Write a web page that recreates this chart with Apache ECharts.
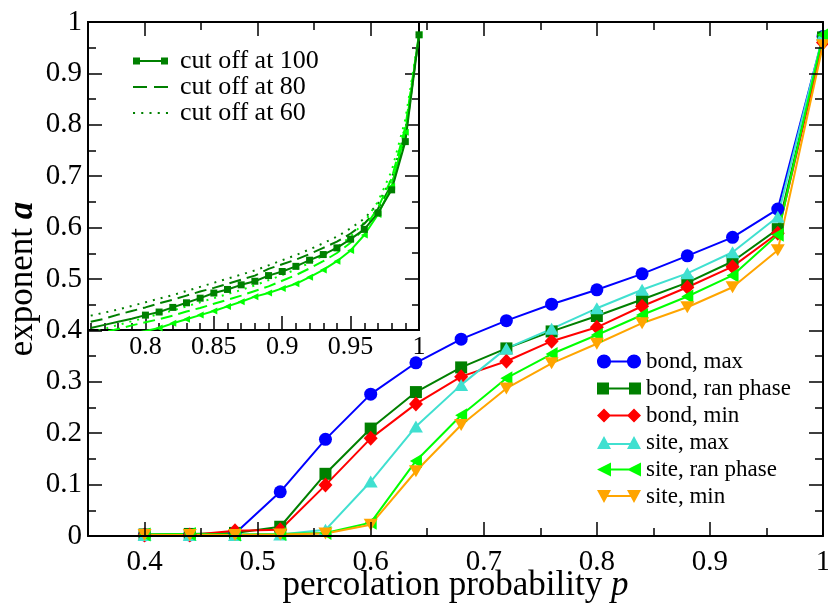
<!DOCTYPE html>
<html><head><meta charset="utf-8">
<script src="https://cdn.jsdelivr.net/npm/echarts@6/dist/echarts.min.js"></script>
<style>html,body{margin:0;padding:0;background:#fff}#c{width:828px;height:603px}</style>
</head><body><div id="c"></div>
<script>
// ---- main panel data ----
const pMain   = [0.40,0.44,0.48,0.52,0.56,0.60,0.64,0.68,0.72,0.76,0.80,0.84,0.88,0.92,0.96,1.00];
const bondMax = [0.002,0.002,0.005,0.086,0.188,0.276,0.337,0.383,0.419,0.451,0.479,0.510,0.545,0.581,0.636,0.972];
const bondRan = [0.003,0.004,0.006,0.018,0.121,0.209,0.280,0.328,0.365,0.398,0.428,0.460,0.493,0.534,0.597,0.970];
const bondMin = [0.002,0.002,0.010,0.012,0.099,0.190,0.257,0.310,0.340,0.379,0.406,0.447,0.484,0.524,0.589,0.960];
const siteMax = [0.002,0.002,0.002,0.003,0.012,0.106,0.213,0.294,0.365,0.403,0.443,0.479,0.511,0.552,0.621,0.975];
const siteRan = [0.003,0.004,0.003,0.004,0.006,0.026,0.146,0.235,0.307,0.354,0.391,0.430,0.466,0.507,0.586,0.975];
const siteMin = [0.002,0.002,0.002,0.003,0.005,0.022,0.126,0.216,0.287,0.336,0.374,0.414,0.445,0.484,0.556,0.955];
const mainNames = ['bond, max','bond, ran phase','bond, min','site, max','site, ran phase','site, min'];
const mainXLabels = [0.4,0.5,0.6,0.7,0.8,0.9,1.0];

// ---- inset data ----
const pInset = [0.76,0.77,0.78,0.79,0.80,0.81,0.82,0.83,0.84,0.85,0.86,0.87,0.88,0.89,0.90,0.91,0.92,0.93,0.94,0.95,0.96,0.97,0.98,0.99,1.00];
const bondCut100 = [0.404,0.410,0.416,0.422,0.429,0.435,0.444,0.453,0.462,0.472,0.479,0.488,0.495,0.506,0.514,0.524,0.536,0.547,0.560,0.577,0.596,0.628,0.673,0.767,0.975];
const bondCut80  = [0.416,0.422,0.430,0.437,0.444,0.452,0.459,0.467,0.475,0.482,0.490,0.498,0.506,0.519,0.528,0.537,0.548,0.560,0.572,0.588,0.607,0.636,0.683,0.775,0.975];
const bondCut60  = [0.428,0.434,0.440,0.447,0.454,0.461,0.468,0.476,0.484,0.492,0.500,0.508,0.516,0.526,0.536,0.546,0.557,0.569,0.582,0.598,0.617,0.646,0.695,0.790,0.975];
const siteCut100 = [0.375,0.381,0.387,0.393,0.398,0.404,0.413,0.421,0.429,0.437,0.446,0.455,0.465,0.472,0.481,0.490,0.503,0.517,0.534,0.555,0.585,0.625,0.680,0.785,0.975];
const siteCut80  = [0.390,0.396,0.402,0.409,0.415,0.421,0.428,0.436,0.443,0.451,0.459,0.467,0.476,0.485,0.496,0.507,0.520,0.534,0.550,0.570,0.598,0.638,0.695,0.795,0.975];
const siteCut60  = [0.396,0.402,0.410,0.417,0.424,0.431,0.438,0.446,0.454,0.462,0.470,0.478,0.487,0.497,0.507,0.518,0.531,0.545,0.561,0.582,0.610,0.650,0.710,0.810,0.975];
const insetNames = ['cut off at 100','cut off at 80','cut off at 60'];
const insetXLabels = [0.8,0.85,0.9,0.95,1.0];
const insetMinorTicks = [0.76,0.77,0.78,0.79,0.81,0.82,0.83,0.84,0.86,0.87,0.88,0.89,0.91,0.92,0.93,0.94,0.96,0.97,0.98,0.99];

const FONT = 'Liberation Serif';
const BLK = '#000';
const chart = echarts.init(document.getElementById('c'), null, {renderer:'canvas'});

function fmt(v){ if (Math.abs(v-1)<1e-9) return '1'; if (Math.abs(v)<1e-9) return '0'; return (+v.toFixed(2)).toString(); }
function fmtMainX(v){ const r=Math.round(v*10); if (Math.abs(v*10-r)>1e-6) return ''; return r===10?'1':(r/10).toFixed(1); }

const mainColors = ['#0000ff','#008000','#ff0000','#40e0d0','#00ff00','#ffa500'];
const mainData = [bondMax,bondRan,bondMin,siteMax,siteRan,siteMin];
const mainSym = [['circle',13,0],['rect',12,0],['diamond',[14,15],0],['triangle',[14,12],0],['triangle',[14,12],90],['triangle',[14,12],180]];
const circ = (cx)=>`M${cx-7},7C${cx-7},3.13,${cx-3.87},0,${cx},0C${cx+3.87},0,${cx+7},3.13,${cx+7},7C${cx+7},10.87,${cx+3.87},14,${cx},14C${cx-3.87},14,${cx-7},10.87,${cx-7},7Z`;
const mainIcons = [
 'path://' + circ(7) + circ(37) + 'M7,6L37,6L37,8L7,8Z',
 'path://M0,0L12,0L12,12L0,12ZM32,0L44,0L44,12L32,12ZM12,5L32,5L32,7L12,7Z',
 'path://M0,7L7,0L14,7L7,14ZM30,7L37,0L44,7L37,14ZM7,6L37,6L37,8L7,8Z',
 'path://M0,13L7,0L14,13ZM30,13L37,0L44,13ZM7,7L37,7L37,9L7,9Z',
 'path://M0,7L14,0L14,14ZM30,7L44,0L44,14ZM7,6L37,6L37,8L7,8Z',
 'path://M0,0L14,0L7,13ZM30,0L44,0L37,13ZM7,5L37,5L37,7L7,7Z'
];
const insetIcons = [
 'path://M0,0L7,0L7,7L0,7ZM28,0L35,0L35,7L28,7ZM7,2.5L28,2.5L28,4.5L7,4.5Z',
 'path://M0,0L14,0L14,2L0,2ZM21,0L35,0L35,2L21,2Z',
 'path://M0,0L2,0L2,2L0,2ZM8,0L10,0L10,2L8,2ZM16,0L18,0L18,2L16,2ZM24,0L26,0L26,2L24,2ZM32,0L34,0L34,2L32,2Z'
];

const series = [];
mainData.forEach((d,i)=>{
  series.push({type:'line', name: mainNames[i], xAxisIndex:0, yAxisIndex:0,
    data: pMain.map((x,k)=>[x,d[k]]),
    symbol: mainSym[i][0], symbolSize: mainSym[i][1], symbolRotate: mainSym[i][2],
    showSymbol:true, showAllSymbol:true,
    lineStyle:{color:mainColors[i], width:2}, itemStyle:{color:mainColors[i]},
    z: 2, animation:false, clip:true, emphasis:{disabled:true}});
});
const DG = '#008000', LG = '#00ff00';
function inset(name, d, color, type, sym, rot){
  return {type:'line', name, xAxisIndex:4, yAxisIndex:2,
    data: pInset.map((x,k)=>[x,d[k]]),
    symbol: sym ? (v => v[0] < 0.795 ? 'none' : sym) : 'none', symbolSize: 7, symbolRotate: rot||0,
    showSymbol: !!sym, showAllSymbol:true,
    lineStyle:{color, width:2, type}, itemStyle:{color},
    z: 7, animation:false, clip:true, emphasis:{disabled:true}};
}
series.push(inset('cut off at 60', bondCut60, DG, [2,6], null));
series.push(inset('site cut 60', siteCut60, LG, [2,6], null));
series.push(inset('cut off at 80', bondCut80, DG, [12,6], null));
series.push(inset('site cut 80', siteCut80, LG, [12,6], null));
series.push(inset('site cut 100', siteCut100, LG, 'solid', 'triangle', 90));
series.push(inset('cut off at 100', bondCut100, DG, 'solid', 'rect', 0));

const tickStyle = {color:BLK, width:1.5};
const lineSt = {show:true, lineStyle:{color:BLK, width:2}};
const TITLE = 35;
const option = {
  backgroundColor:'#fff',
  animation:false,
  grid:[
    {left:88, right:5, top:22, bottom:67, show:false, z:0, containLabel:false, outerBoundsMode:'none'},
    {left:88, top:22, width:331, height:308, show:true, backgroundColor:'#fff', borderColor:BLK, borderWidth:2, z:5, containLabel:false, outerBoundsMode:'none'}
  ],
  xAxis:[
    {gridIndex:0, type:'value', position:'bottom', min:0.35, max:1, interval:0.05, z:10,
     axisLine:lineSt, splitLine:{show:false},
     axisTick:{show:true, inside:true, length:8, lineStyle:tickStyle},
     axisLabel:{show:true, formatter:fmtMainX, fontFamily:FONT, fontSize:29, color:BLK, margin:12, showMinLabel:true, showMaxLabel:true, hideOverlap:false},
     name:'{t|percolation probability }{i|p}', nameLocation:'middle', nameGap:32, nameMoveOverlap:false,
     nameTextStyle:{color:BLK, fontFamily:FONT, fontSize:TITLE, rich:{t:{fontFamily:FONT,fontSize:TITLE,color:BLK}, i:{fontFamily:FONT,fontSize:TITLE,fontStyle:'italic',color:BLK}}}},
    {gridIndex:0, type:'value', position:'bottom', min:0.35, max:1, z:10,
     axisLine:{show:false}, splitLine:{show:false}, axisLabel:{show:false},
     axisTick:{show:true, inside:true, length:14, lineStyle:tickStyle, customValues:mainXLabels}},
    {gridIndex:0, type:'value', position:'top', min:0.35, max:1, interval:0.05, z:10,
     axisLine:lineSt, splitLine:{show:false}, axisLabel:{show:false},
     axisTick:{show:true, inside:true, length:8, lineStyle:tickStyle}},
    {gridIndex:0, type:'value', position:'top', min:0.35, max:1, z:10,
     axisLine:{show:false}, splitLine:{show:false}, axisLabel:{show:false},
     axisTick:{show:true, inside:true, length:14, lineStyle:tickStyle, customValues:mainXLabels}},
    {gridIndex:1, type:'value', position:'bottom', min:0.758, max:1, z:6,
     axisLine:lineSt, splitLine:{show:false},
     axisTick:{show:true, inside:true, length:7, lineStyle:tickStyle, customValues:insetMinorTicks},
     axisLabel:{show:true, customValues:insetXLabels, formatter:fmt, fontFamily:FONT, fontSize:26, color:BLK, margin:4, hideOverlap:false}},
    {gridIndex:1, type:'value', position:'bottom', min:0.758, max:1, z:6,
     axisLine:{show:false}, splitLine:{show:false}, axisLabel:{show:false},
     axisTick:{show:true, inside:true, length:14, lineStyle:tickStyle, customValues:insetXLabels}}
  ],
  yAxis:[
    {gridIndex:0, type:'value', position:'left', min:0, max:1, interval:0.1, z:10,
     axisLine:lineSt, splitLine:{show:false},
     axisTick:{show:true, inside:true, length:14, lineStyle:tickStyle},
     minorTick:{show:true, splitNumber:2, length:8, lineStyle:tickStyle},
     axisLabel:{show:true, formatter:fmt, fontFamily:FONT, fontSize:29, color:BLK, margin:6, showMinLabel:true, showMaxLabel:true},
     name:'{t|exponent }{b|a}', nameLocation:'middle', nameGap:48, nameRotate:90, nameMoveOverlap:false,
     nameTextStyle:{color:BLK, fontFamily:FONT, fontSize:TITLE, rich:{t:{fontFamily:FONT,fontSize:TITLE,color:BLK}, b:{fontFamily:FONT,fontSize:TITLE,fontStyle:'italic',fontWeight:'bold',color:BLK}}}},
    {gridIndex:0, type:'value', position:'right', min:0, max:1, interval:0.1, z:10,
     axisLine:lineSt, splitLine:{show:false}, axisLabel:{show:false},
     axisTick:{show:true, inside:true, length:14, lineStyle:tickStyle},
     minorTick:{show:true, splitNumber:2, length:8, lineStyle:tickStyle}},
    {gridIndex:1, type:'value', position:'left', min:0.4, max:1, interval:0.1, z:6,
     axisLine:{show:false}, splitLine:{show:false}, axisLabel:{show:false}, axisTick:{show:false}},
    {gridIndex:1, type:'value', position:'right', min:0.4, max:1, interval:0.1, z:6,
     axisLine:lineSt, splitLine:{show:false}, axisLabel:{show:false},
     axisTick:{show:true, inside:true, length:14, lineStyle:tickStyle},
     minorTick:{show:true, splitNumber:2, length:7, lineStyle:tickStyle}}
  ],
  legend:[
    {orient:'vertical', left:597, top:350, padding:0, itemWidth:44, itemHeight:14, itemGap:4, z:10,
     selectedMode:false, textStyle:{fontFamily:FONT, fontSize:23, color:BLK},
     data: mainNames.map((n,i)=>({name:n, icon:mainIcons[i]}))},
    {orient:'vertical', left:133, top:48, padding:0, itemWidth:35, itemHeight:8, itemGap:0, z:10,
     selectedMode:false, textStyle:{fontFamily:FONT, fontSize:26, lineHeight:24, color:BLK, padding:[0,0,0,7]},
     data: insetNames.map((n,i)=>({name:n, icon:insetIcons[i]}))}
  ],
  series
};
chart.setOption(option);
</script></body></html>
